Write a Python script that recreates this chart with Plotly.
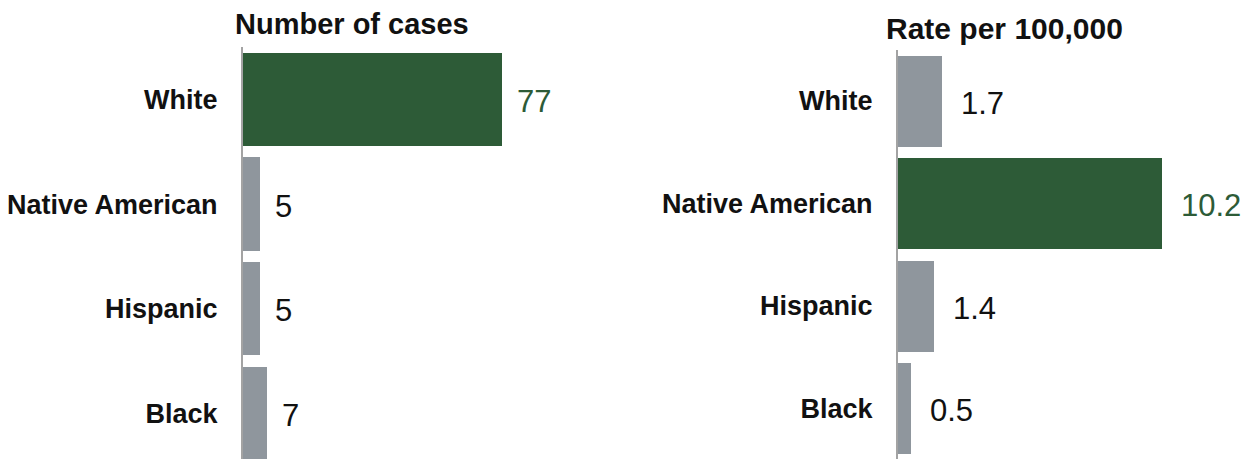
import plotly.graph_objects as go

# Data
groups = ["White", "Native American", "Hispanic", "Black"]
cases = [77, 5, 5, 7]
rates = [1.7, 10.2, 1.4, 0.5]
case_labels = ["77", "5", "5", "7"]
rate_labels = ["1.7", "10.2", "1.4", "0.5"]
cases_highlight = "White"
rates_highlight = "Native American"

GREEN = "#2d5b37"
GRAY = "#8f969d"
AXIS = "#a3a3a3"
FONT = "Liberation Sans, Arial, sans-serif"

W, H = 1251, 459


def colors_for(highlight):
    return [GREEN if g == highlight else GRAY for g in groups]


fig = go.Figure()

fig.add_trace(go.Bar(
    x=cases, y=groups, orientation="h",
    marker=dict(color=colors_for(cases_highlight), line=dict(width=0)),
    width=0.89, xaxis="x", yaxis="y", hoverinfo="skip",
))
fig.add_trace(go.Bar(
    x=rates, y=groups, orientation="h",
    marker=dict(color=colors_for(rates_highlight), line=dict(width=0)),
    width=0.89, xaxis="x2", yaxis="y2", hoverinfo="skip",
))

# Value labels placed just past the end of each bar
for g, v, t in zip(groups, cases, case_labels):
    fig.add_annotation(
        x=v, y=g, xref="x", yref="y", text=t, showarrow=False,
        xanchor="left", xshift=13, yshift=-2,
        font=dict(family=FONT, size=31,
                  color=GREEN if g == cases_highlight else "#111111"),
    )
for g, v, t in zip(groups, rates, rate_labels):
    fig.add_annotation(
        x=v, y=g, xref="x2", yref="y2", text=t, showarrow=False,
        xanchor="left", xshift=17, yshift=-2,
        font=dict(family=FONT, size=31,
                  color=GREEN if g == rates_highlight else "#111111"),
    )

# Panel titles
fig.add_annotation(
    x=352 / W, y=1 - 24 / H, xref="paper", yref="paper",
    text="Number of cases", showarrow=False, xanchor="center", yanchor="middle",
    font=dict(family=FONT, size=29, color="#111111", weight="bold"),
)
fig.add_annotation(
    x=1004 / W, y=1 - 29 / H, xref="paper", yref="paper",
    text="Rate per 100,000", showarrow=False, xanchor="center", yanchor="middle",
    font=dict(family=FONT, size=30, color="#111111", weight="bold"),
)

left_x0 = 243 / W
right_x0 = 898 / W
left_step = 104.7
right_step = 102.5
left_top = 99.5 - left_step / 2
right_top = 101 - right_step / 2

tickfont = dict(family=FONT, size=27, color="#111111", weight="bold")

fig.update_layout(
    width=W, height=H,
    margin=dict(l=0, r=0, t=0, b=0),
    paper_bgcolor="white", plot_bgcolor="white",
    showlegend=False,
    bargap=0,
    xaxis=dict(domain=[left_x0, left_x0 + 100 * 259 / 77 / W], range=[0, 100],
               visible=False, fixedrange=True),
    xaxis2=dict(domain=[right_x0, right_x0 + 13 * 264 / 10.2 / W], range=[0, 13],
                visible=False, fixedrange=True),
    yaxis=dict(domain=[0, 1 - left_top / H],
               range=[-0.5 + (H - left_top) / left_step, -0.5],
               anchor="x", showline=True, linecolor=AXIS, linewidth=2,
               showgrid=False, zeroline=False, ticks="",
               ticklabelstandoff=18, tickfont=tickfont, fixedrange=True),
    yaxis2=dict(domain=[0, 1 - right_top / H],
                range=[-0.5 + (H - right_top) / right_step, -0.5],
                anchor="x2", showline=True, linecolor=AXIS, linewidth=2,
                showgrid=False, zeroline=False, ticks="",
                ticklabelstandoff=18, tickfont=tickfont, fixedrange=True),
)

fig.write_html("out.html")
